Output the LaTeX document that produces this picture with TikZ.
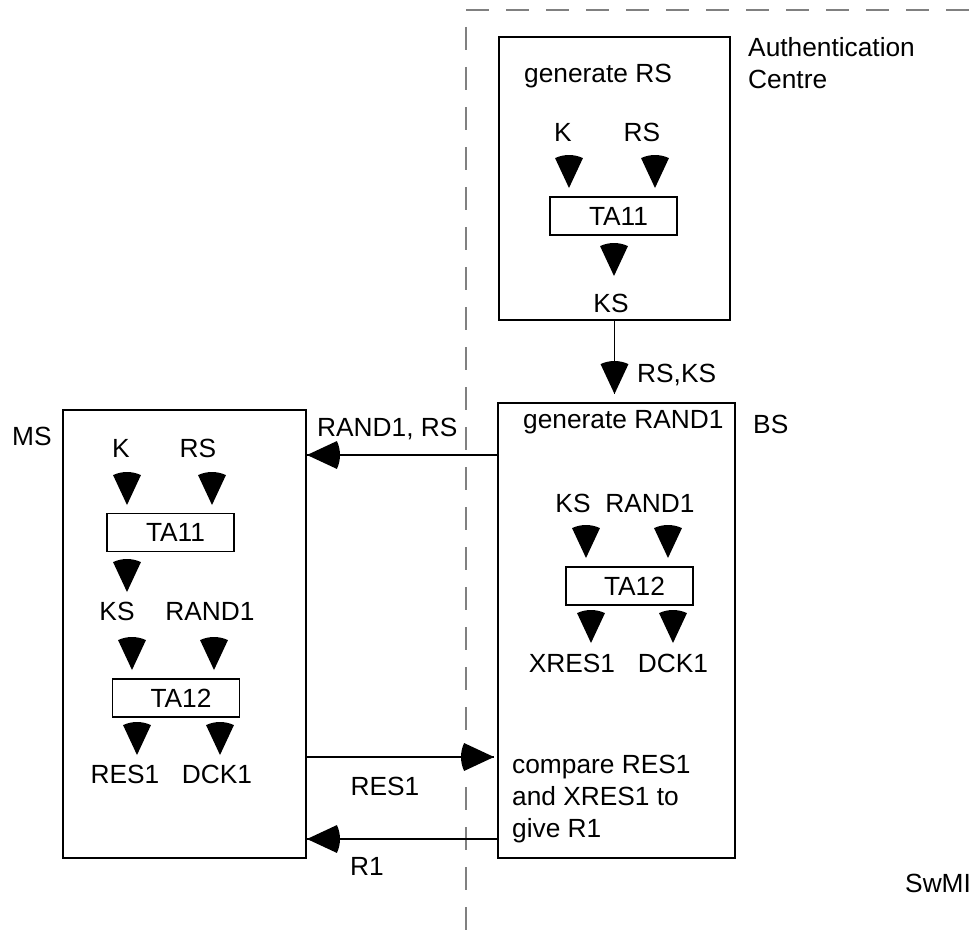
\documentclass[tikz,border=0pt]{standalone}
\usepackage{fontspec}
\setmainfont{Liberation Sans}
\usetikzlibrary{calc,decorations.markings}
\definecolor{fgrey}{HTML}{808080}
\tikzset{
  unit/.style  = {draw, line width=2pt, rectangle, inner sep=0pt},
  tabox/.style = {draw, line width=1.8pt, rectangle, inner sep=0pt,
                  minimum width=127pt, minimum height=38pt,
                  execute at begin node={\hspace*{10pt}}},
  lbl/.style   = {inner sep=0pt, anchor=base},
  sig/.style   = {line width=1.5pt, postaction={decorate},
                  decoration={markings, mark=at position 1 with
                  {\fill (0,0) -- (155:33) arc[start angle=155,end angle=205,radius=33] -- cycle;}}},
  zone/.style  = {fgrey, line width=1.5pt, dash pattern=on 23pt off 17pt},
  wedge/.pic   = {\fill (0,0) -- (65:33) arc[start angle=65,end angle=115,radius=33] -- cycle;},
}

\begin{document}
\begin{tikzpicture}[x=1pt,y=1pt,font=\fontsize{26.3}{32}\selectfont]
\useasboundingbox (0,0) rectangle (969,-934);
% SwMI boundary
\draw[zone] (466,-10) -- (969,-10);
\draw[zone] (466,-27) -- (466,-934);
\node[lbl,anchor=base west] (SW) at (905,-892) {SwMI};
% authentication centre
\node[unit,minimum width=231pt,minimum height=283pt] (AC) at (614.5,-178.5) {};
\node[anchor=north west,inner sep=0pt,align=left] (ACn) at (748,-37) {Authentication\\Centre};
\node[lbl] (gRS) at (598,-82) {generate RS};
\node[lbl] (K1) at (563,-141) {K};
\node[lbl] (RS1) at (642,-141) {RS};
\node[tabox] (T1) at (613.5,-216) {TA11};
\node[lbl] (KS1) at (611,-312) {KS};
\pic at (569,-188) {wedge};
\pic at (655,-188) {wedge};
\pic at (614,-276) {wedge};
% base station
\node[unit,minimum width=237pt,minimum height=455pt] (BS) at (616.5,-630.5) {};
\node[lbl,anchor=base west] (BSn) at (753,-433) {BS};
\node[lbl,anchor=base west] (gR) at (523,-428) {generate RAND1};
\node[lbl] (KS3) at (573,-512) {KS};
\node[lbl] (R3) at (650,-512) {RAND1};
\node[tabox] (T4) at (629.5,-586) {TA12};
\node[lbl] (XR) at (572,-672) {XRES1};
\node[lbl] (DK3) at (673,-672) {DCK1};
\node[anchor=north west,inner sep=0pt,align=left] (CMP) at (512,-755) {compare RES1\\and XRES1 to\\give R1};
\pic at (586,-558) {wedge};
\pic at (668,-558) {wedge};
\pic at (591,-643) {wedge};
\pic at (673,-643) {wedge};
% mobile station
\node[unit,minimum width=243pt,minimum height=448pt] (MS) at (184.5,-634) {};
\node[lbl,anchor=base west] (MSn) at (12,-445) {MS};
\node[lbl] (K2) at (121,-457) {K};
\node[lbl] (RS2) at (198,-457) {RS};
\node[tabox] (T2) at (170.5,-532.5) {TA11};
\node[lbl] (KS2) at (117,-620) {KS};
\node[lbl] (R2) at (210,-620) {RAND1};
\node[tabox] (T3) at (176,-698) {TA12};
\node[lbl] (RE2) at (125,-783) {RES1};
\node[lbl] (DK2) at (217,-783) {DCK1};
\pic at (127,-505) {wedge};
\pic at (212,-505) {wedge};
\pic at (127,-592) {wedge};
\pic at (132,-670) {wedge};
\pic at (214,-670) {wedge};
\pic at (137,-755) {wedge};
\pic at (220,-755) {wedge};
% messages
\coordinate (yA) at (0,-455);
\coordinate (yB) at (0,-757);
\coordinate (yC) at (0,-839);
\draw[sig] (AC.south) -- ([yshift=8pt]AC.south |- BS.north);
\node[lbl,anchor=base west] at (637,-382) {RS,KS};
\draw[sig] (BS.west |- yA) -- (MS.east |- yA);
\node[lbl,anchor=base west] at (317,-436) {RAND1, RS};
\draw[sig] (MS.east |- yB) -- ([xshift=-3pt]BS.west |- yB);
\node[lbl] at (385,-795) {RES1};
\draw[sig] (BS.west |- yC) -- (MS.east |- yC);
\node[lbl] at (367,-875) {R1};
\end{tikzpicture}
\end{document}
